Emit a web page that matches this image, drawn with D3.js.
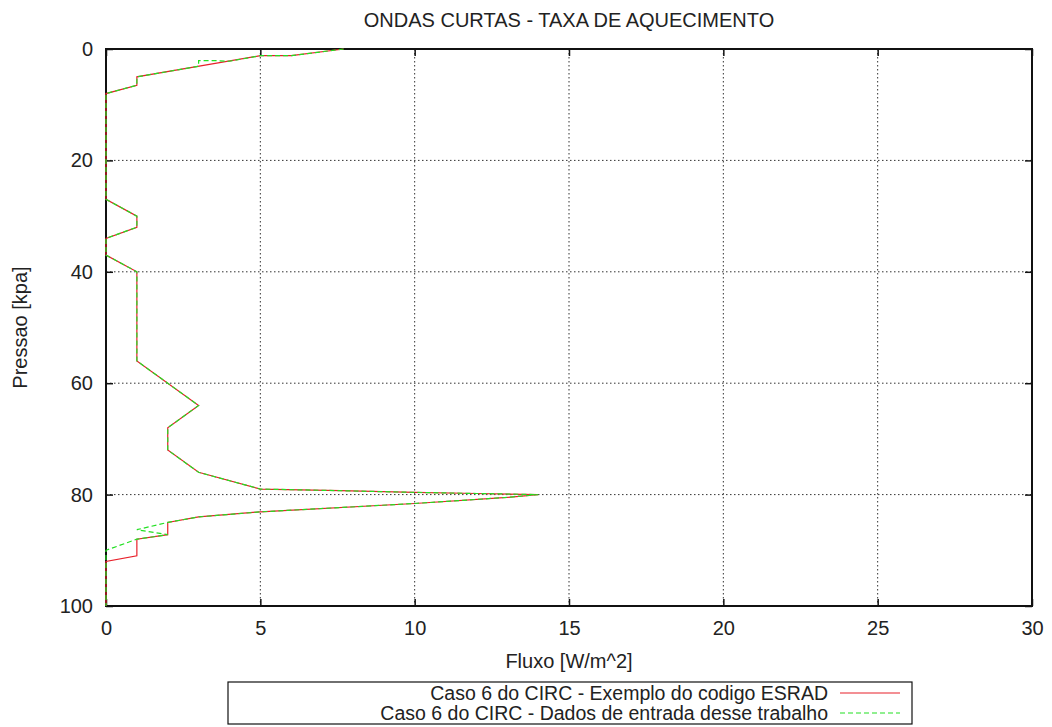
<!DOCTYPE html>
<html>
<head>
<meta charset="utf-8">
<script src="https://cdn.jsdelivr.net/npm/d3@7"></script>
<style>
  body { margin: 0; background: #fff; }
  text { font-family: "Liberation Sans", Arial, sans-serif; fill: #222; }
</style>
</head>
<body>
<svg width="1052" height="727"></svg>
<script>
// heating rate [W/m^2] vs pressure [kpa]
let esradFlux = [7.7, 6, 5, 1, 1, 0, 0, 1, 1, 0, 0, 1, 1, 3, 2, 2, 3, 5, 7.6, 10, 12, 14, 13, 10, 5, 3, 2, 2, 1, 1, 0, 0]
let esradPres = [0, 1.2, 1.2, 5, 6.5, 8, 27, 30, 32, 34, 37, 40, 56, 64, 68, 72, 76, 79, 79.3, 79.6, 79.8, 80, 80.5, 81.6, 83.1, 84, 85, 87.2, 88, 91, 92, 100]

let inputFlux = [7.7, 6, 5, 4, 3.6, 3, 3, 1, 1, 0, 0, 1, 1, 0, 0, 1, 1, 3, 2, 2, 3, 5, 7.6, 10, 12, 14, 13, 10, 5, 3, 2, 1, 2, 1, 0, 0]
let inputPres = [0, 1.2, 1.2, 2.2, 2.1, 2.1, 3.1, 5, 6.5, 8, 27, 30, 32, 34, 37, 40, 56, 64, 68, 72, 76, 79, 79.3, 79.6, 79.8, 80, 80.5, 81.6, 83.1, 84, 85, 86.3, 87.2, 88, 90, 100]

let xTicks = [0, 5, 10, 15, 20, 25, 30]
let yTicks = [0, 20, 40, 60, 80, 100]

let legendLabels = ['Caso 6 do CIRC - Exemplo do codigo ESRAD', 'Caso 6 do CIRC - Dados de entrada desse trabalho']

let plotLeft = 106, plotRight = 1032, plotTop = 49, plotBottom = 606
let fontSize = 20

let svg = d3.select('svg')
let x = d3.scaleLinear().domain([0, 30]).range([plotLeft, plotRight])
let y = d3.scaleLinear().domain([0, 100]).range([plotTop, plotBottom])

// grid
svg.selectAll('line.vgrid').data(xTicks.slice(1, -1)).enter().append('line')
  .attr('x1', d => x(d)).attr('x2', d => x(d))
  .attr('y1', plotTop).attr('y2', plotBottom)
  .attr('stroke', '#333').attr('stroke-width', 1).attr('stroke-dasharray', '1.5,2.5')
svg.selectAll('line.hgrid').data(yTicks.slice(1, -1)).enter().append('line')
  .attr('x1', plotLeft).attr('x2', plotRight)
  .attr('y1', d => y(d)).attr('y2', d => y(d))
  .attr('stroke', '#333').attr('stroke-width', 1).attr('stroke-dasharray', '1.5,2.5')

// axes with inward ticks
svg.append('g').attr('transform', `translate(0,${plotBottom})`)
  .call(d3.axisBottom(x).tickValues(xTicks).tickSize(-7).tickPadding(15).tickFormat(d3.format('d')))
svg.append('g').attr('transform', `translate(0,${plotTop})`)
  .call(d3.axisTop(x).tickValues(xTicks).tickSize(-7).tickFormat(''))
svg.append('g').attr('transform', `translate(${plotLeft},0)`)
  .call(d3.axisLeft(y).tickValues(yTicks).tickSize(-7).tickPadding(13).tickFormat(d3.format('d')))
svg.append('g').attr('transform', `translate(${plotRight},0)`)
  .call(d3.axisRight(y).tickValues(yTicks).tickSize(-7).tickFormat(''))

svg.selectAll('.domain').remove()
svg.selectAll('.tick line').attr('stroke', '#111').attr('stroke-width', 1.5)
svg.selectAll('.tick text').attr('font-size', fontSize).attr('fill', '#222')
  .style('font-family', '"Liberation Sans", Arial, sans-serif')

svg.append('rect')
  .attr('x', plotLeft).attr('y', plotTop).attr('width', plotRight - plotLeft).attr('height', plotBottom - plotTop)
  .attr('fill', 'none').attr('stroke', '#111').attr('stroke-width', 2)

// series
let line = d3.line().x(d => x(d[0])).y(d => y(d[1]))
svg.append('path').datum(d3.zip(esradFlux, esradPres))
  .attr('d', line).attr('fill', 'none').attr('stroke', '#e8202a').attr('stroke-width', 1.2)
svg.append('path').datum(d3.zip(inputFlux, inputPres))
  .attr('d', line).attr('fill', 'none').attr('stroke', '#22e022').attr('stroke-width', 1.2)
  .attr('stroke-dasharray', '5,3')

// texts
svg.append('text').attr('x', (plotLeft + plotRight) / 2).attr('y', 27).attr('text-anchor', 'middle')
  .attr('font-size', fontSize).text('ONDAS CURTAS - TAXA DE AQUECIMENTO')
svg.append('text').attr('x', (plotLeft + plotRight) / 2).attr('y', 668).attr('text-anchor', 'middle')
  .attr('font-size', fontSize).text('Fluxo [W/m^2]')
svg.append('text').attr('transform', `translate(27,${(plotTop + plotBottom) / 2}) rotate(-90)`)
  .attr('text-anchor', 'middle').attr('font-size', fontSize).text('Pressao [kpa]')

// legend
svg.append('rect').attr('x', 228).attr('y', 682).attr('width', 684).attr('height', 42)
  .attr('fill', 'none').attr('stroke', '#111').attr('stroke-width', 1.2)
let legendStyles = [{ c: '#e8202a', dash: null }, { c: '#22e022', dash: '5,3' }]
legendLabels.forEach((label, i) => {
  let ly = 693 + i * 20
  svg.append('text').attr('x', 828).attr('y', ly + 7).attr('text-anchor', 'end')
    .attr('font-size', 19.5).text(label)
  svg.append('line').attr('x1', 840).attr('x2', 900).attr('y1', ly).attr('y2', ly)
    .attr('stroke', legendStyles[i].c).attr('stroke-width', 1.2)
    .attr('stroke-dasharray', legendStyles[i].dash)
})
</script>
</body>
</html>
